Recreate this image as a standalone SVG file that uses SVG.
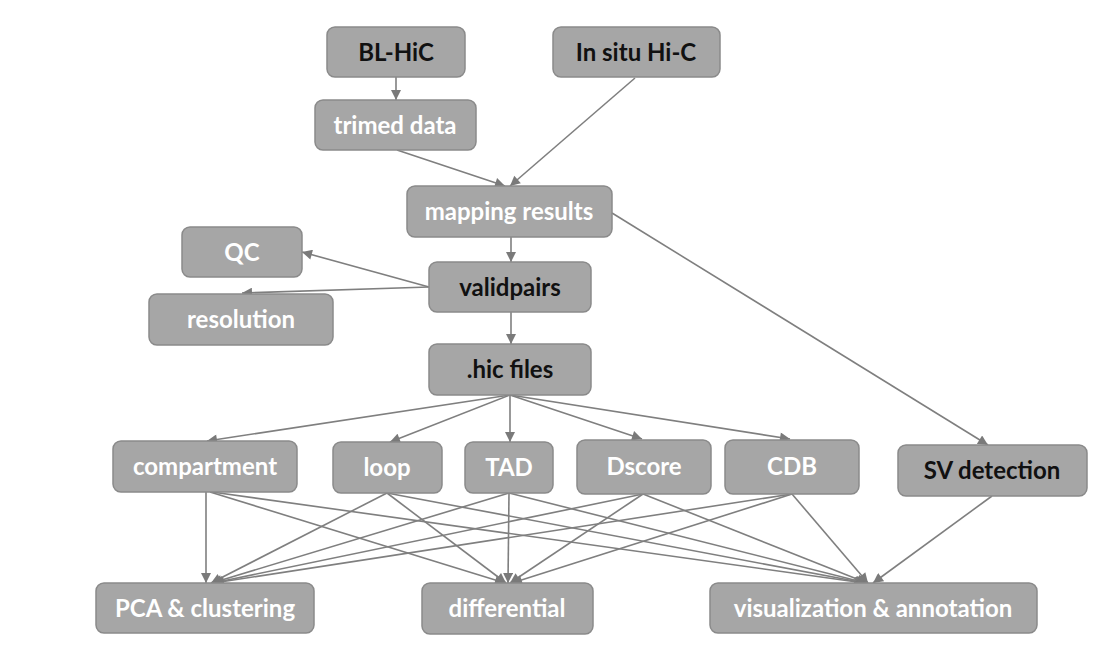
<svg xmlns="http://www.w3.org/2000/svg" width="1106" height="661" viewBox="0 0 1106 661">
<defs>
<marker id="ah" viewBox="0 0 10 10" refX="10" refY="5" markerWidth="11" markerHeight="10" markerUnits="userSpaceOnUse" orient="auto">
<path d="M0,0 L10,5 L0,10 z" fill="#7a7a7a"/>
</marker>
<style>
.n rect{fill:#a6a6a6;stroke:#8a8a8a;stroke-width:1.5}
.n text{font-family:Lato,"Open Sans",sans-serif;font-weight:bold;font-size:24px;text-anchor:middle}
.w text{fill:#ffffff}
.k text{fill:#111111}
#edges line{stroke:#7f7f7f;stroke-width:1.6;marker-end:url(#ah)}
</style>
</defs>
<rect width="1106" height="661" fill="#ffffff"/>
<g id="edges">
<line x1="396" y1="77" x2="396" y2="100"/>
<line x1="397" y1="150" x2="505" y2="186"/>
<line x1="635" y1="78" x2="510" y2="186"/>
<line x1="511" y1="237" x2="511" y2="262"/>
<line x1="612" y1="213" x2="988" y2="445"/>
<line x1="429" y1="287" x2="302" y2="252"/>
<line x1="429" y1="287" x2="242" y2="293"/>
<line x1="511" y1="312" x2="511" y2="344"/>
<line x1="510" y1="395" x2="207" y2="441"/>
<line x1="510" y1="395" x2="390" y2="442"/>
<line x1="510" y1="395" x2="510" y2="442"/>
<line x1="510" y1="395" x2="642" y2="439"/>
<line x1="510" y1="395" x2="790" y2="439"/>
<line x1="206" y1="492" x2="206" y2="583"/>
<line x1="210" y1="492" x2="505" y2="583"/>
<line x1="212" y1="492" x2="864" y2="583"/>
<line x1="387" y1="493" x2="211" y2="583"/>
<line x1="387" y1="493" x2="506" y2="583"/>
<line x1="387" y1="493" x2="865" y2="583"/>
<line x1="509" y1="493" x2="212" y2="583"/>
<line x1="509" y1="493" x2="508" y2="583"/>
<line x1="509" y1="493" x2="866" y2="583"/>
<line x1="643" y1="494" x2="213" y2="583"/>
<line x1="643" y1="494" x2="510" y2="583"/>
<line x1="643" y1="494" x2="867" y2="583"/>
<line x1="792" y1="494" x2="214" y2="583"/>
<line x1="792" y1="494" x2="512" y2="583"/>
<line x1="792" y1="494" x2="868" y2="583"/>
<line x1="992" y1="496" x2="873" y2="583"/>
</g>
<g id="bl-hic" class="n k"><rect x="327" y="27" width="138" height="50" rx="8"/><text x="396" y="61">BL-HiC</text></g>
<g id="in-situ" class="n k"><rect x="553" y="27" width="167" height="50" rx="8"/><text x="636" y="61">In situ Hi-C</text></g>
<g id="trimed" class="n w"><rect x="315" y="100" width="161" height="50" rx="8"/><text x="395" y="134">trimed data</text></g>
<g id="mapping" class="n w"><rect x="407" y="186" width="205" height="51" rx="8"/><text x="509" y="220">mapping results</text></g>
<g id="qc" class="n w"><rect x="182" y="227" width="120" height="50" rx="8"/><text x="242" y="261">QC</text></g>
<g id="validpairs" class="n k"><rect x="429" y="262" width="162" height="50" rx="8"/><text x="510" y="296">validpairs</text></g>
<g id="resolution" class="n w"><rect x="149" y="294" width="184" height="51" rx="8"/><text x="241" y="328">resolution</text></g>
<g id="hic" class="n k"><rect x="429" y="344" width="162" height="51" rx="8"/><text x="510" y="378">.hic files</text></g>
<g id="compartment" class="n w"><rect x="113" y="441" width="184" height="51" rx="8"/><text x="205" y="475">compartment</text></g>
<g id="loop" class="n w"><rect x="333" y="442" width="109" height="51" rx="8"/><text x="387" y="476">loop</text></g>
<g id="tad" class="n w"><rect x="465" y="442" width="88" height="51" rx="8"/><text x="509" y="476">TAD</text></g>
<g id="dscore" class="n w"><rect x="577" y="440" width="134" height="54" rx="8"/><text x="644" y="475">Dscore</text></g>
<g id="cdb" class="n w"><rect x="725" y="440" width="134" height="54" rx="8"/><text x="792" y="475">CDB</text></g>
<g id="sv" class="n k"><rect x="898" y="445" width="189" height="51" rx="8"/><text x="992" y="479">SV detection</text></g>
<g id="pca" class="n w"><rect x="96" y="583" width="218" height="50" rx="8"/><text x="205" y="617">PCA &amp; clustering</text></g>
<g id="differential" class="n w"><rect x="422" y="583" width="171" height="51" rx="8"/><text x="507" y="617">differential</text></g>
<g id="vis" class="n w"><rect x="710" y="583" width="327" height="50" rx="8"/><text x="873" y="617">visualization &amp; annotation</text></g>
</svg>
